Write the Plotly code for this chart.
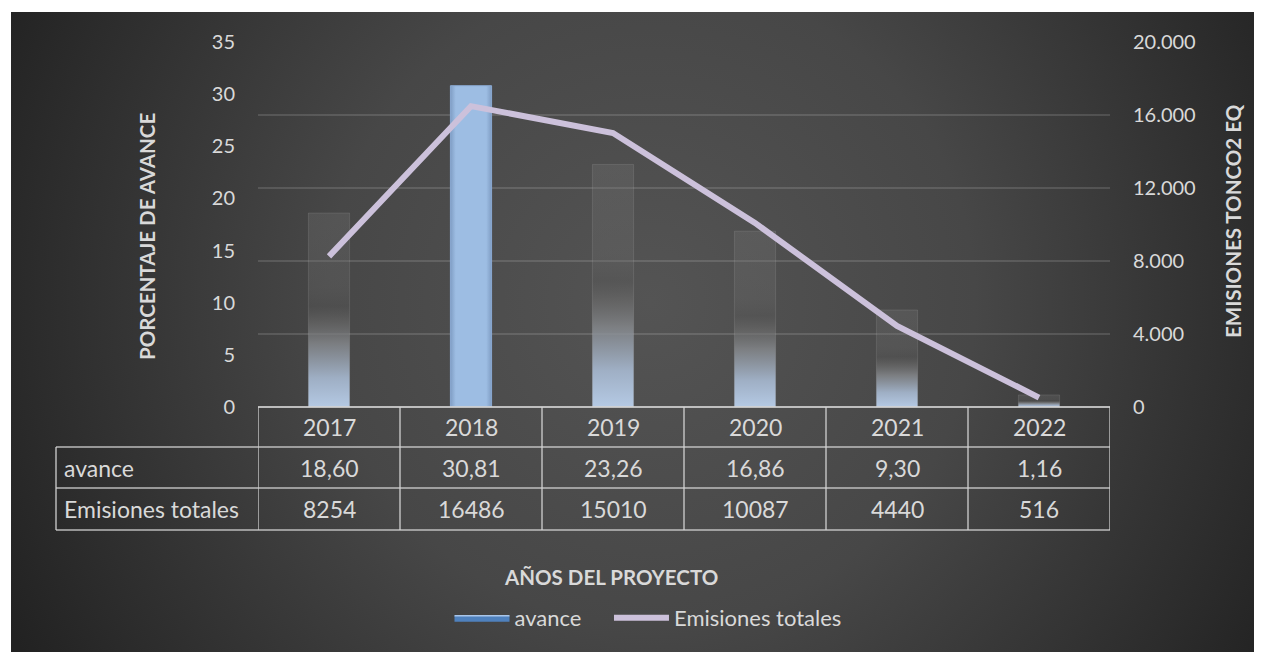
import base64
import plotly.graph_objects as go

# ---------------- data ----------------
years = ["2017", "2018", "2019", "2020", "2021", "2022"]
avance = [18.60, 30.81, 23.26, 16.86, 9.30, 1.16]
emisiones = [8254, 16486, 15010, 10087, 4440, 516]
highlight = "2018"

left_ticks = [0, 5, 10, 15, 20, 25, 30, 35]
right_ticks = [0, 4000, 8000, 12000, 16000, 20000]

# ---------------- layout geometry ----------------
# page body has an 8px margin (figure is offset by 8px on screen)
OFF = 8
W, H = 1262 - OFF, 652 - OFF
# plot area in screen pixels: x 258..1110, y 42..407
ML = 258 - OFF
MT = 42 - OFF
MR = W - (1110 - OFF)
MB = H - (407 - OFF)
PW, PH = W - ML - MR, H - MT - MB


def px2x(px):
    return (px - OFF - ML) / PW


def py2y(py):
    return (H - MB - (py - OFF)) / PH


TXT = "#d9d9d9"
FONT = "Lato"
BAR_W = 0.29

fig = go.Figure()

# bars drawn as gradient-filled polygons
for i, (yr, v) in enumerate(zip(years, avance)):
    xs = [i - BAR_W / 2, i - BAR_W / 2, i + BAR_W / 2, i + BAR_W / 2, i - BAR_W / 2]
    ys = [0, v, v, 0, 0]
    if yr == highlight:
        fig.add_trace(go.Scatter(
            x=xs, y=ys, mode="lines", fill="toself",
            fillgradient=dict(type="horizontal", colorscale=[
                [0, "#7f9dc4"], [0.13, "#9dbde3"], [0.87, "#9dbde3"], [1, "#7f9dc4"]]),
            line=dict(color="#8aa9d2", width=1),
            showlegend=False, hoverinfo="skip", yaxis="y"))
    else:
        fig.add_trace(go.Scatter(
            x=xs, y=ys, mode="lines", fill="toself",
            fillgradient=dict(type="vertical", colorscale=[
                [0.0, "rgba(186,208,236,0.95)"],
                [0.15, "rgba(168,186,210,0.90)"],
                [0.33, "rgba(135,138,142,0.80)"],
                [0.44, "rgba(112,112,112,0.55)"],
                [0.52, "rgba(92,92,92,0.35)"],
                [0.62, "rgba(110,110,110,0.30)"],
                [1.0, "rgba(118,118,118,0.30)"]]),
            line=dict(color="rgba(255,255,255,0.10)", width=1),
            showlegend=False, hoverinfo="skip", yaxis="y"))

# legend entry for bars
fig.add_trace(go.Scatter(
    x=[None], y=[None], mode="lines", fill="toself",
    name="avance" + "\u00a0" * 4,
    fillcolor="#4f81bd", line=dict(color="#a9c6ea", width=1.5),
    yaxis="y", showlegend=True))

# line series
fig.add_trace(go.Scatter(
    x=list(range(len(years))), y=emisiones, mode="lines", name="Emisiones totales",
    line=dict(color="#ccc1db", width=6), yaxis="y2", hoverinfo="skip"))

# ---------------- white page band (top/left), above the dark background ----------------
shapes = [
    dict(type="rect", xref="paper", yref="paper", layer="below",
         x0=px2x(0), x1=px2x(11), y0=py2y(700), y1=py2y(0),
         fillcolor="white", line=dict(width=0)),
    dict(type="rect", xref="paper", yref="paper", layer="below",
         x0=px2x(0), x1=px2x(1300), y0=py2y(12), y1=py2y(0),
         fillcolor="white", line=dict(width=0)),
]

# ---------------- table ----------------
LC = "rgba(210,210,210,0.85)"
y_top, y_r1, y_r2, y_r3 = py2y(407), py2y(447), py2y(488), py2y(530)
x_lab = px2x(56)
shapes.append(dict(type="line", xref="paper", yref="paper", x0=0, x1=1, y0=y_top, y1=y_top,
                   line=dict(color=LC, width=2)))
for yy in (y_r1, y_r2, y_r3):
    shapes.append(dict(type="line", xref="paper", yref="paper", x0=x_lab, x1=1, y0=yy, y1=yy,
                       line=dict(color=LC, width=1.5)))
shapes.append(dict(type="line", xref="paper", yref="paper", x0=x_lab, x1=x_lab, y0=y_r1, y1=y_r3,
                   line=dict(color=LC, width=1.5)))
for k in range(len(years) + 1):
    shapes.append(dict(type="line", xref="x", yref="paper", x0=k - 0.5, x1=k - 0.5,
                       y0=y_top, y1=y_r3, line=dict(color=LC, width=1.5)))

annotations = []
tf = dict(family=FONT, size=23, color=TXT)
row_c = [py2y(427), py2y(468), py2y(509)]
for i, yr in enumerate(years):
    annotations.append(dict(x=i, y=row_c[0], xref="x", yref="paper", text=yr,
                            showarrow=False, font=tf, xanchor="center", yanchor="middle"))
    annotations.append(dict(x=i, y=row_c[1], xref="x", yref="paper",
                            text=f"{avance[i]:.2f}".replace(".", ","),
                            showarrow=False, font=tf, xanchor="center", yanchor="middle"))
    annotations.append(dict(x=i, y=row_c[2], xref="x", yref="paper", text=str(emisiones[i]),
                            showarrow=False, font=tf, xanchor="center", yanchor="middle"))
annotations.append(dict(x=px2x(62), y=row_c[1], xref="paper", yref="paper", text="avance",
                        showarrow=False, font=tf, xanchor="left", yanchor="middle"))
annotations.append(dict(x=px2x(62), y=row_c[2], xref="paper", yref="paper", text="Emisiones totales",
                        showarrow=False, font=tf, xanchor="left", yanchor="middle"))

# axis titles
bf = dict(family=FONT, size=20.5, color=TXT)
annotations.append(dict(x=px2x(147), y=py2y(237), xref="paper", yref="paper",
                        text="<b>PORCENTAJE DE AVANCE</b>", textangle=-90, showarrow=False,
                        font=bf, xanchor="center", yanchor="middle"))
annotations.append(dict(x=px2x(1233), y=py2y(221), xref="paper", yref="paper",
                        text="<b>EMISIONES TONCO2 EQ</b>", textangle=-90, showarrow=False,
                        font=bf, xanchor="center", yanchor="middle"))
annotations.append(dict(x=px2x(611), y=py2y(577), xref="paper", yref="paper",
                        text="<b>AÑOS DEL PROYECTO</b>", showarrow=False,
                        font=bf, xanchor="center", yanchor="middle"))

# background (dark radial gradient), extended past the visible edge
BW, BH = 1300 - 11, 690 - 12
svg = (f'<svg xmlns="http://www.w3.org/2000/svg" width="{BW}" height="{BH}" viewBox="0 0 {BW} {BH}" '
       'preserveAspectRatio="none"><defs><radialGradient id="g" gradientUnits="userSpaceOnUse" '
       'cx="640" cy="290" r="720"><stop offset="0" stop-color="#545454"/>'
       '<stop offset="0.45" stop-color="#474747"/><stop offset="1" stop-color="#222222"/>'
       f'</radialGradient></defs><rect width="{BW}" height="{BH}" fill="url(#g)"/></svg>')
src = "data:image/svg+xml;base64," + base64.b64encode(svg.encode()).decode()
images = [dict(source=src, xref="paper", yref="paper", x=px2x(11), y=py2y(12),
               sizex=BW / PW, sizey=BH / PH, xanchor="left", yanchor="top",
               sizing="stretch", layer="below")]

fig.update_layout(
    width=W, height=H,
    margin=dict(l=ML, r=MR, t=MT, b=MB, pad=0),
    paper_bgcolor="#262626", plot_bgcolor="rgba(0,0,0,0)",
    separators=",.",
    font=dict(family=FONT, color=TXT, size=20),
    xaxis=dict(range=[-0.5, len(years) - 0.5], showticklabels=False, showgrid=False,
               zeroline=False, showline=False, fixedrange=True),
    yaxis=dict(range=[0, 35], tickvals=left_ticks, showgrid=False, zeroline=False,
               showline=False, ticks="", ticklabelstandoff=22,
               tickfont=dict(family=FONT, size=20, color=TXT)),
    yaxis2=dict(range=[0, 20000], tickvals=right_ticks, tickformat=",d", overlaying="y",
                side="right", showgrid=True, gridcolor="rgba(255,255,255,0.13)", gridwidth=1.5,
                zeroline=False, showline=False, ticks="", ticklabelstandoff=22,
                tickfont=dict(family=FONT, size=20, color=TXT)),
    legend=dict(orientation="h", x=px2x(648), y=py2y(618), xanchor="center", yanchor="middle",
                font=dict(family=FONT, size=22, color=TXT), bgcolor="rgba(0,0,0,0)",
                itemwidth=55),
    shapes=shapes, annotations=annotations, images=images,
)

fig.write_html("out.html")
